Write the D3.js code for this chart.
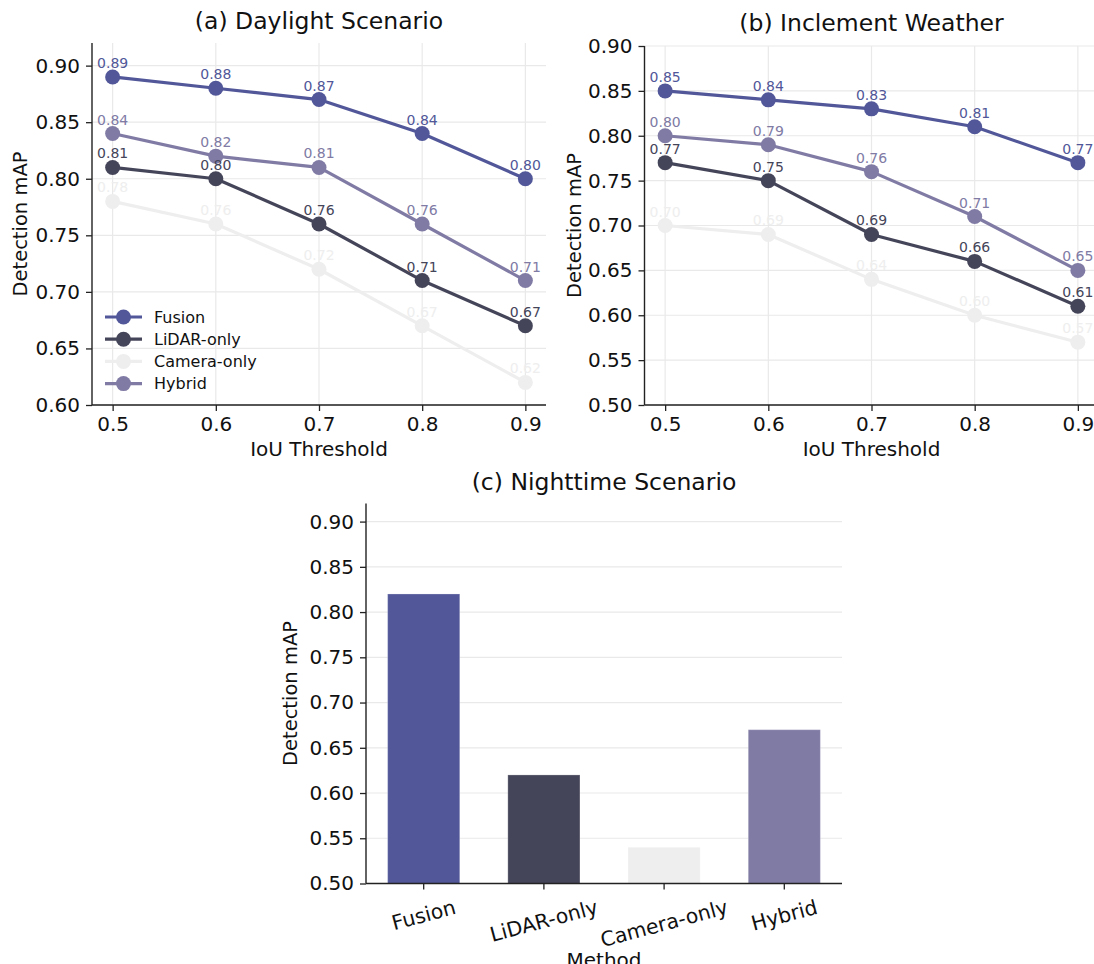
<!DOCTYPE html>
<html>
<head>
<meta charset="utf-8">
<style>
  body { margin: 0; background: #fff; }
  svg { font-family: 'DejaVu Sans', sans-serif; display: block; }
</style>
</head>
<body>
<svg width="1094" height="964"></svg>
<script src="https://d3js.org/d3.v7.min.js"></script>
<script>
// ---- data ----
const thresholds = [0.5, 0.6, 0.7, 0.8, 0.9];
const methods = ["Fusion", "LiDAR-only", "Camera-only", "Hybrid"];

const dayFusion = [0.89, 0.88, 0.87, 0.84, 0.80];
const dayLidar = [0.81, 0.80, 0.76, 0.71, 0.67];
const dayCamera = [0.78, 0.76, 0.72, 0.67, 0.62];
const dayHybrid = [0.84, 0.82, 0.81, 0.76, 0.71];

const wetFusion = [0.85, 0.84, 0.83, 0.81, 0.77];
const wetLidar = [0.77, 0.75, 0.69, 0.66, 0.61];
const wetCamera = [0.70, 0.69, 0.64, 0.60, 0.57];
const wetHybrid = [0.80, 0.79, 0.76, 0.71, 0.65];

const nightMap = [0.82, 0.62, 0.54, 0.67];

const yTicksDay = [0.60, 0.65, 0.70, 0.75, 0.80, 0.85, 0.90];
const yTicksWet = [0.50, 0.55, 0.60, 0.65, 0.70, 0.75, 0.80, 0.85, 0.90];

const colors = ["#515799", "#45455a", "#eeeeee", "#807ba5"];

const svg = d3.select("svg");
const gridCol = "#e9e9e9";
const spineCol = "#222";
const tickFont = 20;
const labelFont = 20;

function spines(g, x0, x1, y0, y1) {
  g.append("line").attr("x1", x0).attr("x2", x0).attr("y1", y0).attr("y2", y1)
    .attr("stroke", spineCol).attr("stroke-width", 1.4);
  g.append("line").attr("x1", x0).attr("x2", x1).attr("y1", y1).attr("y2", y1)
    .attr("stroke", spineCol).attr("stroke-width", 1.4);
}

function yAxis(g, y, ticks, x0, x1, grid) {
  ticks.forEach(t => {
    if (grid) g.append("line").attr("x1", x0).attr("x2", x1).attr("y1", y(t)).attr("y2", y(t))
      .attr("stroke", gridCol).attr("stroke-width", 1.2);
  });
  const ax = g.append("g").attr("transform", `translate(${x0},0)`)
    .call(d3.axisLeft(y).tickValues(ticks).tickFormat(d3.format(".2f")).tickSize(6).tickPadding(6));
  ax.select(".domain").remove();
  ax.selectAll("line").attr("stroke", spineCol).attr("stroke-width", 1.3);
  ax.selectAll("text").attr("font-size", tickFont).attr("fill", "#111").attr("font-family", "DejaVu Sans");
}

function linePanel(opts) {
  const { left, right, top, bottom, yDomain, yTicks, series, title, titleY, ylabelX, legend } = opts;
  const g = svg.append("g");
  const x = d3.scaleLinear().domain([0.48, 0.92]).range([left, right]);
  const y = d3.scaleLinear().domain(yDomain).range([bottom, top]);

  // grids
  thresholds.forEach(t => {
    g.append("line").attr("x1", x(t)).attr("x2", x(t)).attr("y1", top).attr("y2", bottom)
      .attr("stroke", gridCol).attr("stroke-width", 1.2);
  });
  yAxis(g, y, yTicks, left, right, true);

  const xa = g.append("g").attr("transform", `translate(0,${bottom})`)
    .call(d3.axisBottom(x).tickValues(thresholds).tickFormat(d3.format(".1f")).tickSize(6).tickPadding(6));
  xa.select(".domain").remove();
  xa.selectAll("line").attr("stroke", spineCol).attr("stroke-width", 1.3);
  xa.selectAll("text").attr("font-size", tickFont).attr("fill", "#111").attr("font-family", "DejaVu Sans");

  spines(g, left, right, top, bottom);

  const line = d3.line().x((d, i) => x(thresholds[i])).y(d => y(d));
  series.forEach((s, k) => {
    g.append("path").attr("d", line(s)).attr("fill", "none")
      .attr("stroke", colors[k]).attr("stroke-width", 3.2).attr("stroke-linejoin", "round");
    g.selectAll(null).data(s).join("circle")
      .attr("cx", (d, i) => x(thresholds[i])).attr("cy", d => y(d)).attr("r", 7.5)
      .attr("fill", colors[k]);
  });
  series.forEach((s, k) => {
    g.selectAll(null).data(s).join("text")
      .attr("x", (d, i) => x(thresholds[i])).attr("y", d => y(d) - 9)
      .attr("text-anchor", "middle").attr("font-size", 14).attr("fill", colors[k])
      .text(d => d.toFixed(2));
  });

  g.append("text").attr("x", (left + right) / 2).attr("y", titleY)
    .attr("text-anchor", "middle").attr("font-size", 23.5).attr("fill", "#111").text(title);
  g.append("text").attr("x", (left + right) / 2).attr("y", 456)
    .attr("text-anchor", "middle").attr("font-size", labelFont).attr("fill", "#111").text("IoU Threshold");
  g.append("text").attr("transform", `translate(${ylabelX},${(top + bottom) / 2}) rotate(-90)`)
    .attr("text-anchor", "middle").attr("dominant-baseline", "central")
    .attr("font-size", 19.5).attr("fill", "#111").text("Detection mAP");

  if (legend) {
    const lg = g.append("g");
    methods.forEach((m, k) => {
      const ly = 317 + k * 22.2;
      lg.append("line").attr("x1", 105).attr("x2", 142).attr("y1", ly).attr("y2", ly)
        .attr("stroke", colors[k]).attr("stroke-width", 3.2);
      lg.append("circle").attr("cx", 123.5).attr("cy", ly).attr("r", 7.5).attr("fill", colors[k]);
      lg.append("text").attr("x", 154).attr("y", ly).attr("dominant-baseline", "central")
        .attr("font-size", 16).attr("fill", "#111").text(m);
    });
  }
}

linePanel({
  left: 92, right: 546, top: 43, bottom: 405,
  yDomain: [0.60, 0.92], yTicks: yTicksDay,
  series: [dayFusion, dayLidar, dayCamera, dayHybrid],
  title: "(a) Daylight Scenario", titleY: 29, ylabelX: 20, legend: true
});

linePanel({
  left: 644.5, right: 1098.5, top: 46, bottom: 405,
  yDomain: [0.50, 0.90], yTicks: yTicksWet,
  series: [wetFusion, wetLidar, wetCamera, wetHybrid],
  title: "(b) Inclement Weather", titleY: 31, ylabelX: 574, legend: false
});

// ---- (c) bar panel ----
(function () {
  const left = 366, right = 842, top = 503.5, bottom = 883.5;
  const g = svg.append("g");
  const xi = d3.scaleLinear().domain([-0.48, 3.48]).range([left, right]);
  const y = d3.scaleLinear().domain([0.50, 0.92]).range([bottom, top]);
  const bw = xi(0.3) - xi(-0.3);

  yAxis(g, y, yTicksWet, left, right, true);

  g.selectAll(null).data(nightMap).join("rect")
    .attr("x", (d, i) => xi(i) - bw / 2).attr("width", bw)
    .attr("y", d => y(d)).attr("height", d => bottom - y(d))
    .attr("fill", (d, i) => colors[i])
    .attr("stroke", "#fff").attr("stroke-opacity", 0.25).attr("stroke-width", 1);

  spines(g, left, right, top, bottom);

  methods.forEach((m, i) => {
    g.append("line").attr("x1", xi(i)).attr("x2", xi(i)).attr("y1", bottom).attr("y2", bottom + 6)
      .attr("stroke", spineCol).attr("stroke-width", 1.3);
    const t = g.append("text").attr("font-size", 20.4).attr("fill", "#111")
      .attr("text-anchor", "middle").attr("dominant-baseline", "central").text(m);
    const w = t.node().getComputedTextLength();
    const h = 23;
    const a = 15 * Math.PI / 180;
    const cy = bottom + 12 + (w * Math.sin(a) + h * Math.cos(a)) / 2;
    t.attr("transform", `translate(${xi(i)},${cy}) rotate(-15)`);
  });

  g.append("text").attr("x", (left + right) / 2).attr("y", 490)
    .attr("text-anchor", "middle").attr("font-size", 23.5).attr("fill", "#111").text("(c) Nighttime Scenario");
  g.append("text").attr("x", (left + right) / 2).attr("y", 967)
    .attr("text-anchor", "middle").attr("font-size", labelFont).attr("fill", "#111").text("Method");
  g.append("text").attr("transform", `translate(290,${(top + bottom) / 2}) rotate(-90)`)
    .attr("text-anchor", "middle").attr("dominant-baseline", "central")
    .attr("font-size", 19.5).attr("fill", "#111").text("Detection mAP");
})();
</script>
</body>
</html>
